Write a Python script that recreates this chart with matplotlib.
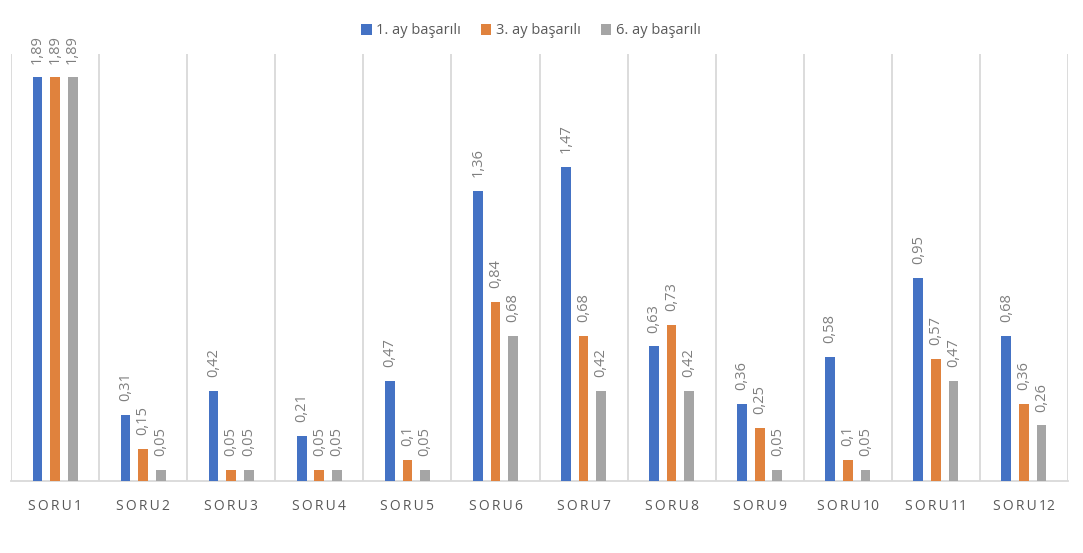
import numpy as np
import matplotlib.pyplot as plt
from matplotlib.patches import Patch

plt.rcParams['font.family'] = ['Open Sans', 'DejaVu Sans']

categories = [f"SORU{i}" for i in range(1, 13)]
series_names = ["1. ay başarılı", "3. ay başarılı", "6. ay başarılı"]
ay1 = [1.89, 0.31, 0.42, 0.21, 0.47, 1.36, 1.47, 0.63, 0.36, 0.58, 0.95, 0.68]
ay3 = [1.89, 0.15, 0.05, 0.05, 0.10, 0.84, 0.68, 0.73, 0.25, 0.10, 0.57, 0.36]
ay6 = [1.89, 0.05, 0.05, 0.05, 0.05, 0.68, 0.42, 0.42, 0.05, 0.05, 0.47, 0.26]
colors = ["#4472C4", "#E0823D", "#A5A5A5"]

fig = plt.figure(figsize=(10.83, 5.53), dpi=100)
ax = fig.add_axes([11 / 1083, 72 / 553, 1057 / 1083, 427 / 553])

x = np.arange(len(categories))
width = 0.11
offsets = [-0.2, 0.0, 0.2]

for vals, off, col in zip([ay1, ay3, ay6], offsets, colors):
    bars = ax.bar(x + off, vals, width=width, color=col, zorder=3)
    for b, v in zip(bars, vals):
        ax.annotate(f"{v:g}".replace(".", ","),
                    (b.get_x() + b.get_width() / 2, b.get_height()),
                    xytext=(0, 10), textcoords="offset points",
                    rotation=90, ha="center", va="bottom",
                    fontsize=10.5, color="#7F7F7F")

ax.set_xlim(-0.5, len(categories) - 0.5)
ax.set_ylim(0, 2.0)

# category separators
for gx in np.arange(-0.5, len(categories), 1.0):
    ax.axvline(gx, color="#D9D9D9", lw=1.3, zorder=1)

for s in ["top", "right", "left"]:
    ax.spines[s].set_visible(False)
ax.spines["bottom"].set_color("#D9D9D9")
ax.spines["bottom"].set_linewidth(1.3)

ax.set_yticks([])
ax.set_xticks(x)
ax.set_xticklabels(["\u2009".join(c[:4]) + "\u2009" + c[4:] for c in categories],
                   fontsize=10, color="#595959")
ax.tick_params(axis="x", length=0, pad=13)

handles = [Patch(facecolor=c, label=n) for c, n in zip(colors, series_names)]
fig.legend(handles=handles, loc="center", bbox_to_anchor=(531 / 1083, 1 - 31 / 553),
           ncol=3, frameon=False, fontsize=10.5, handlelength=0.7, handleheight=0.7,
           handletextpad=0.3, columnspacing=1.4, labelcolor="#595959")

fig.savefig("out.png", dpi=100)
